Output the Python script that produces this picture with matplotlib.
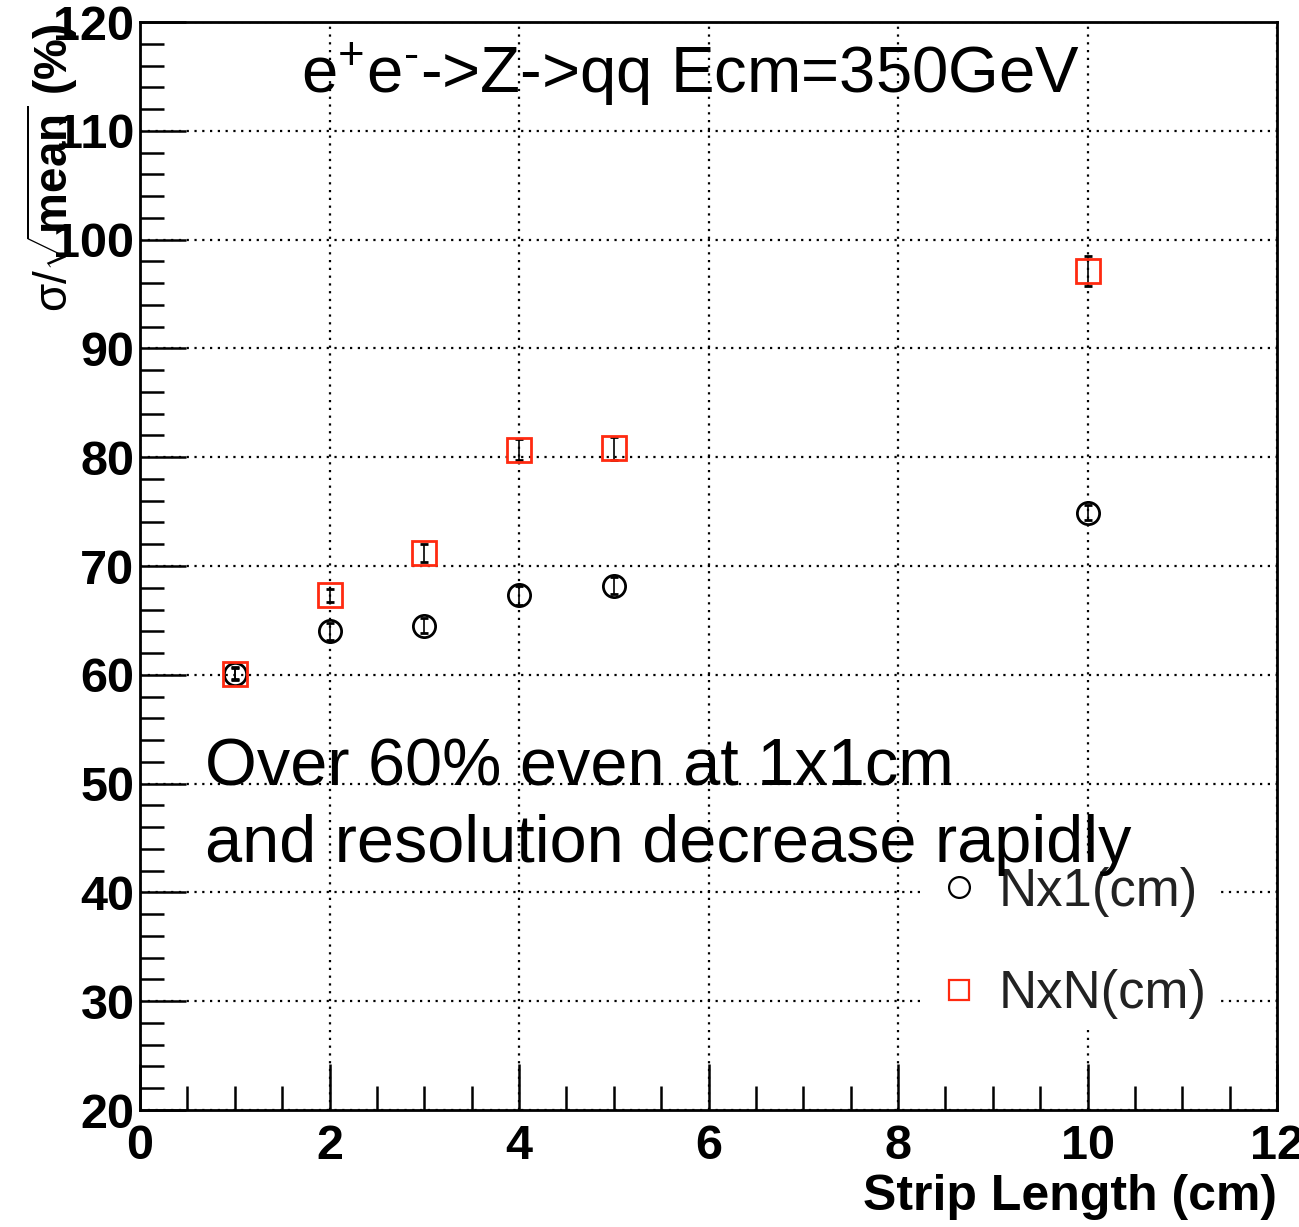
import matplotlib
matplotlib.use("Agg")
import matplotlib.pyplot as plt
from matplotlib.ticker import MultipleLocator
from matplotlib.lines import Line2D

strip_length = [1, 2, 3, 4, 5, 10]
nx1_vals = [60.1, 64.0, 64.5, 67.3, 68.2, 74.9]
nx1_err = [0.5, 0.8, 0.7, 0.9, 0.8, 0.7]
nxn_vals = [60.1, 67.3, 71.2, 80.7, 80.8, 97.1]
nxn_err = [0.6, 0.6, 0.8, 1.0, 1.1, 1.4]

plt.rcParams['font.family'] = ['Liberation Sans', 'DejaVu Sans']
plt.rcParams['mathtext.fontset'] = 'custom'
plt.rcParams['mathtext.rm'] = 'Liberation Sans'
plt.rcParams['mathtext.it'] = 'Liberation Sans'
plt.rcParams['mathtext.bf'] = 'Liberation Sans:bold'

W, H = 1299, 1227
fig = plt.figure(figsize=(W / 100, H / 100), dpi=100)
L, R, T, B = 140, 1277, 22, 1110
ax = fig.add_axes([L / W, (H - B) / H, (R - L) / W, (B - T) / H])


def ax_x(px):
    return (px - L) / (R - L)


def ax_y(py):
    return (B - py) / (B - T)


ax.set_xlim(0, 12)
ax.set_ylim(20, 120)
ax.xaxis.set_major_locator(MultipleLocator(2))
ax.xaxis.set_minor_locator(MultipleLocator(0.5))
ax.yaxis.set_major_locator(MultipleLocator(10))
ax.yaxis.set_minor_locator(MultipleLocator(2))
ax.tick_params(which='major', direction='in', length=33, width=1.8, labelsize=35, pad=10)
ax.tick_params(which='minor', direction='in', length=17, width=1.8)
ax.tick_params(axis='y', pad=4)
for lab in ax.get_xticklabels() + ax.get_yticklabels():
    lab.set_fontweight('bold')
for s in ax.spines.values():
    s.set_linewidth(2)
ax.grid(True, which='major', linestyle=(0, (1, 2.5)), color='black', linewidth=1.6)
ax.set_axisbelow(True)

ax.errorbar(strip_length, nx1_vals, yerr=nx1_err, fmt='o', mfc='none', mec='black',
            mew=2, ms=16, ecolor='black', elinewidth=1.2, capsize=3, zorder=3)
ax.errorbar(strip_length, nxn_vals, yerr=nxn_err, fmt='s', mfc='none', mec='#ff2a10',
            mew=2, ms=17, ecolor='black', elinewidth=1.2, capsize=3, zorder=4)

handles = [
    Line2D([], [], linestyle='none', marker='o', mfc='none', mec='black', mew=1.6, ms=15),
    Line2D([], [], linestyle='none', marker='s', mfc='none', mec='#ff2a10', mew=1.6, ms=15),
]
leg = ax.legend(handles, ['Nx1(cm)', 'NxN(cm)'], loc='center left',
                bbox_to_anchor=(ax_x(925), ax_y(943)),
                frameon=True, fontsize=38, handletextpad=0.3, labelspacing=1.0,
                borderpad=0.2, handlelength=0.9, borderaxespad=0)
leg.get_frame().set_edgecolor('none')
leg.get_frame().set_alpha(1)
leg.set_zorder(5)
for t in leg.get_texts():
    t.set_color('#222222')

ax.text(ax_x(691), ax_y(75), r'e$^{+}$e$^{\text{-}}$->Z->qq Ecm=350GeV', transform=ax.transAxes,
        ha='center', va='center', fontsize=47, color='black', zorder=6)
ax.text(ax_x(205), ax_y(785), 'Over 60% even at 1x1cm',
        transform=ax.transAxes, ha='left', va='baseline', fontsize=48, color='black', zorder=6)
ax.text(ax_x(205), ax_y(862), 'and resolution decrease rapidly',
        transform=ax.transAxes, ha='left', va='baseline', fontsize=48, color='black', zorder=6)

fig.text(52 / W, 1 - 168 / H, r'$\sigma/\sqrt{\mathbf{mean}}$ (%)', rotation=90,
         ha='center', va='center', fontsize=33, fontweight='bold')
fig.text(R / W, 1 - 1197 / H, 'Strip Length (cm)', ha='right', va='center',
         fontsize=36, fontweight='bold')

fig.savefig('out.png', dpi=100)
